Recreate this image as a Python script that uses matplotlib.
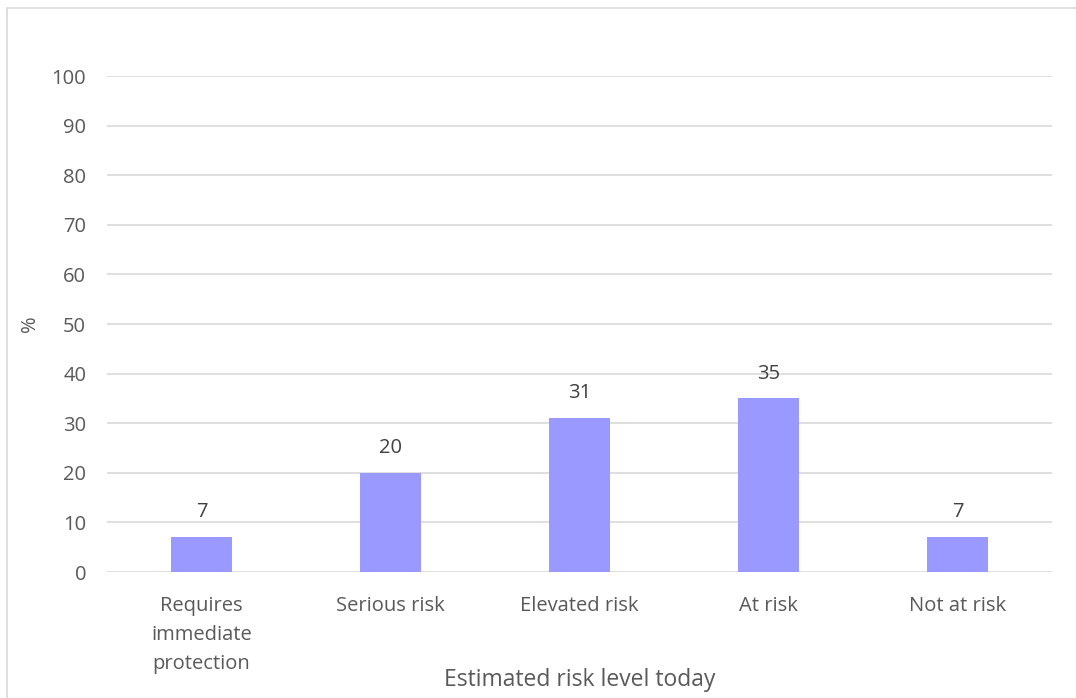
import matplotlib
matplotlib.use("Agg")
import matplotlib.pyplot as plt
from matplotlib.patches import Rectangle

# data
categories = ["Requires\nimmediate\nprotection", "Serious risk", "Elevated risk", "At risk", "Not at risk"]
values = [7, 20, 31, 35, 7]
yticks = [0, 10, 20, 30, 40, 50, 60, 70, 80, 90, 100]

plt.rcParams["font.family"] = ["Open Sans", "DejaVu Sans"]

fig = plt.figure(figsize=(10.76, 6.98), dpi=100)
ax = fig.add_axes([107 / 1076, 1 - 572 / 698, (1052 - 107) / 1076, (572 - 76) / 698])

# light chart-area border
fig.patches.append(Rectangle((7 / 1076, -0.1), 1.2, 1 - 8 / 698 + 0.1, transform=fig.transFigure,
                             fill=False, edgecolor="#D9D9D9", linewidth=1.2))

x = list(range(len(categories)))
bars = ax.bar(x, values, width=0.32, color="#9999FF", zorder=3)

for xi, v in zip(x, values):
    ax.text(xi, v + 5.0, str(v), ha="center", va="center", fontsize=14.5, color="#404040")

ax.set_xlim(-0.5, len(categories) - 0.5)
ax.set_ylim(0, 100)
ax.set_yticks(yticks)
ax.set_xticks(x)
ax.set_xticklabels(categories, fontsize=14.5, color="#595959", linespacing=1.6)
ax.tick_params(axis="y", labelsize=14.5, labelcolor="#595959", length=0, pad=15)
ax.tick_params(axis="x", length=0, pad=17)
ax.grid(axis="y", color="#D9D9D9", linewidth=1.2, zorder=0)
for s in ax.spines.values():
    s.set_visible(False)

ax.set_ylabel("%", fontsize=14.5, color="#595959", labelpad=8)
ax.set_xlabel("Estimated risk level today", fontsize=16.5, color="#595959", labelpad=-4)

fig.savefig("out.png", dpi=100)
